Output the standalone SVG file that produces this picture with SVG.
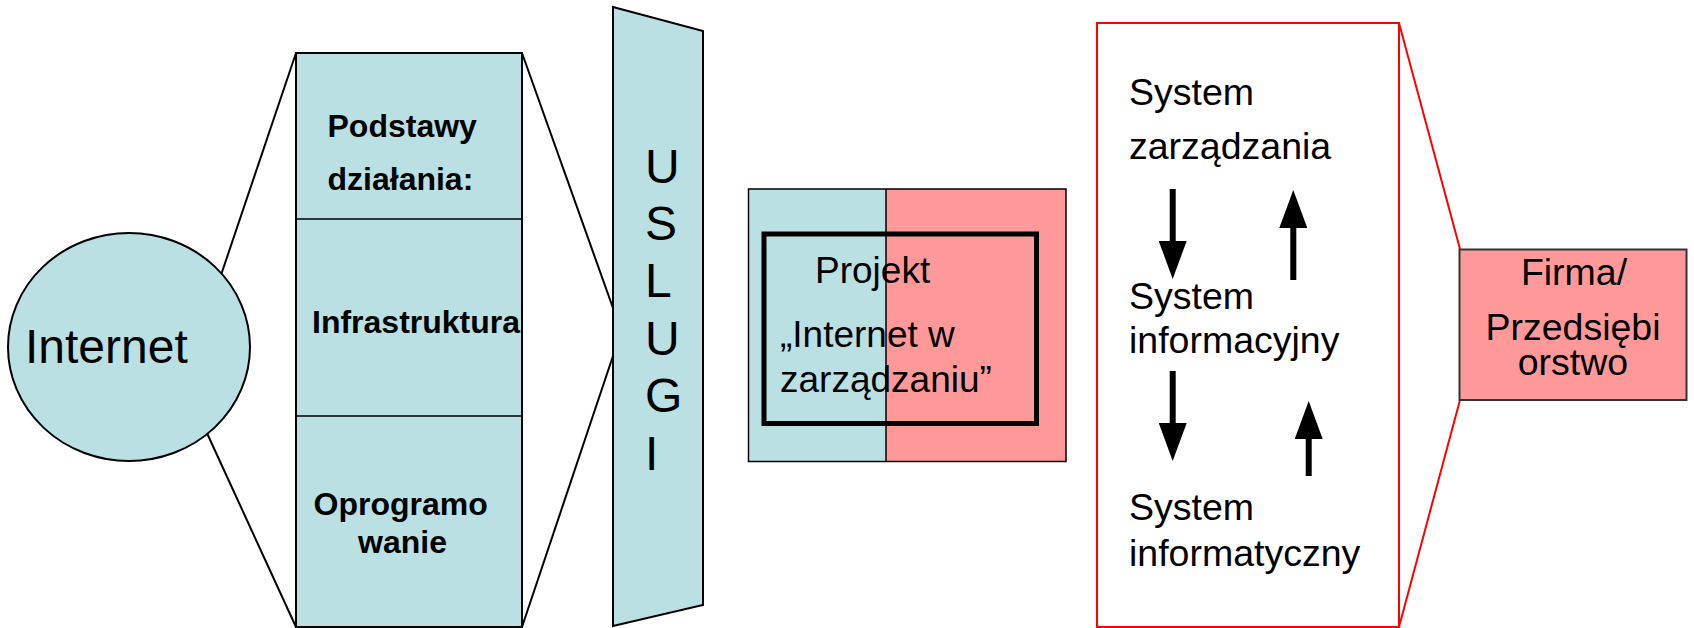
<svg xmlns="http://www.w3.org/2000/svg" width="1694" height="628" viewBox="0 0 1694 628">
<style>
  .blue { fill: #BBE0E3; }
  .pink { fill: #FF9999; }
  .edge { stroke: #000; stroke-width: 2; }
  .thin { stroke: #000; stroke-width: 1.5; fill: none; }
  .conn { stroke: #000; stroke-width: 2; fill: none; }
  .red { stroke: #FF0000; stroke-width: 2; fill: none; }
  .arr { stroke: #000; stroke-width: 6; fill: none; marker-end: url(#head); }
  text { font-family: "Liberation Sans", Arial, sans-serif; fill: #000; }
  .b { font-weight: bold; font-size: 32px; }
  .r36 { font-size: 37px; }
  .r37 { font-size: 37.5px; }
</style>
<defs>
  <marker id="head" markerUnits="userSpaceOnUse" viewBox="0 -14 38 28" markerWidth="38" markerHeight="28" refX="0" refY="0" orient="auto">
    <path d="M0,-14 L38,0 L0,14 z" fill="#000"/>
  </marker>
</defs>

<g id="connectors">
  <line class="conn" x1="220" y1="278" x2="296" y2="53"/>
  <line class="conn" x1="206" y1="431" x2="296" y2="627"/>
  <line class="conn" x1="522" y1="53" x2="613" y2="308"/>
  <line class="conn" x1="522" y1="627" x2="613" y2="356"/>
  <line class="red" x1="1399" y1="23" x2="1460" y2="249"/>
  <line class="red" x1="1399" y1="627" x2="1460" y2="400"/>
  <line class="arr" x1="1172.7" y1="189" x2="1172.7" y2="241"/>
  <line class="arr" x1="1293.3" y1="280" x2="1293.3" y2="228"/>
  <line class="arr" x1="1172.7" y1="371" x2="1172.7" y2="423"/>
  <line class="arr" x1="1308.7" y1="476" x2="1308.7" y2="439"/>
</g>

<g id="internet">
  <ellipse class="blue edge" cx="129" cy="347" rx="121" ry="114"/>
  <text x="25" y="363" font-size="48">Internet</text>
</g>

<g id="stack">
  <rect class="blue edge" x="296" y="53" width="226" height="574"/>
  <line class="thin" x1="296" y1="219" x2="522" y2="219"/>
  <line class="thin" x1="296" y1="416" x2="522" y2="416"/>
  <text class="b" x="327.5" y="137">Podstawy</text>
  <text class="b" x="327.5" y="190">działania:</text>
  <text class="b" x="312" y="333">Infrastruktura</text>
  <text class="b" x="313.5" y="515">Oprogramo</text>
  <text class="b" x="358" y="553">wanie</text>
</g>

<g id="uslugi">
  <polygon class="blue edge" points="613,7 703,31 703,605 613,626"/>
  <text x="645" y="183" font-size="48">U</text>
  <text x="645" y="240" font-size="48">S</text>
  <text x="645" y="297" font-size="48">L</text>
  <text x="645" y="355" font-size="48">U</text>
  <text x="645" y="412" font-size="48">G</text>
  <text x="645" y="470" font-size="48">I</text>
</g>

<g id="projekt">
  <rect class="blue" x="748.5" y="189" width="137.5" height="272.5"/>
  <rect class="pink" x="886" y="189" width="180" height="272.5"/>
  <rect class="thin" x="748.5" y="189" width="317.5" height="272.5"/>
  <line class="thin" x1="886" y1="189" x2="886" y2="461.5"/>
  <rect x="764" y="234" width="272.5" height="189.5" fill="none" stroke="#000" stroke-width="5"/>
  <text class="r36" x="815" y="283">Projekt</text>
  <text class="r36" x="780" y="347">„Internet w</text>
  <text class="r36" x="780" y="392">zarządzaniu”</text>
</g>

<g id="systemy">
  <rect class="red" x="1097" y="23" width="302" height="604"/>
  <text class="r37" x="1129" y="105">System</text>
  <text class="r37" x="1129" y="159">zarządzania</text>
  <text class="r37" x="1129" y="309">System</text>
  <text class="r37" x="1129" y="353">informacyjny</text>
  <text class="r37" x="1129" y="520">System</text>
  <text class="r37" x="1129" y="566">informatyczny</text>
</g>

<g id="firma">
  <rect class="pink" x="1459.5" y="249.5" width="227" height="150.5" stroke="#333" stroke-width="2"/>
  <text class="r37" x="1574" y="285" text-anchor="middle">Firma/</text>
  <text class="r37" x="1573" y="340" text-anchor="middle">Przedsiębi</text>
  <text class="r37" x="1573" y="375" text-anchor="middle">orstwo</text>
</g>
</svg>
